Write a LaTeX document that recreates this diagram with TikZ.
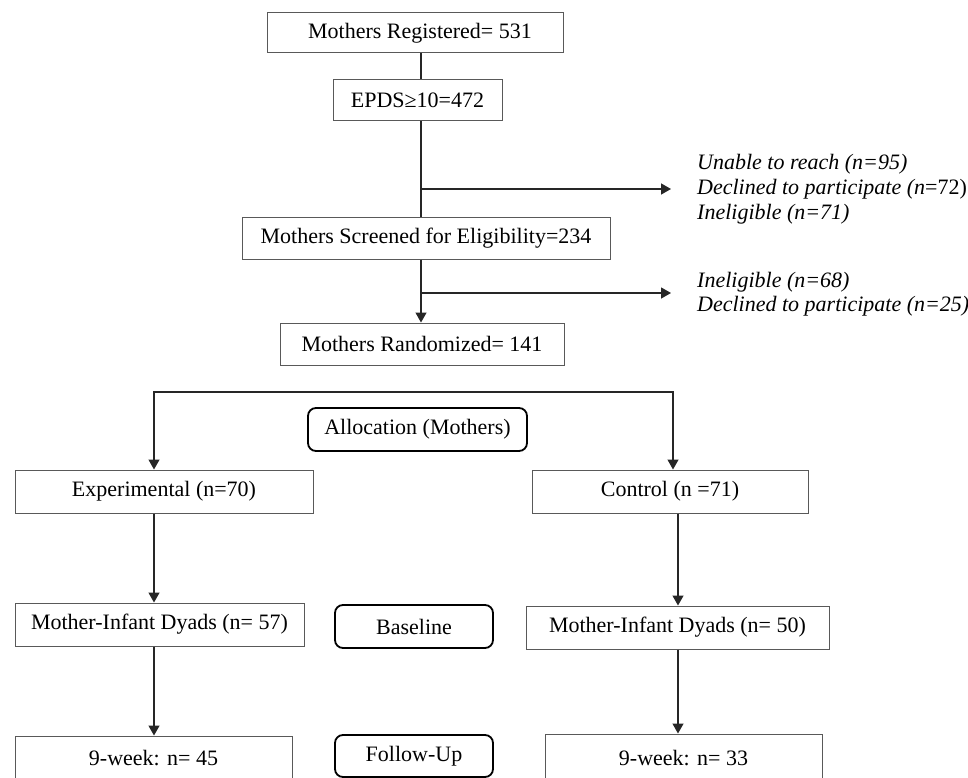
\documentclass[tikz,border=0pt]{standalone}
\usepackage{fontspec}
\setmainfont{Liberation Serif}
\usetikzlibrary{arrows.meta}
\begin{document}
\begin{tikzpicture}[x=1pt,y=-1pt,
  font=\fontsize{22}{26}\selectfont,
  box/.style={draw=black!65, line width=1pt, inner sep=0pt, align=center},
  rbox/.style={draw=black, line width=1.8pt, rounded corners=8pt, inner sep=0pt, align=center},
  conn/.style={draw=black!85, line width=1.3pt},
  arr/.style={conn, -{Triangle[length=10pt,width=11pt]}},
  side/.style={anchor=west, align=left, inner sep=0pt, font=\fontsize{22}{25}\selectfont\itshape}]
\clip (0,0) rectangle (968,778);
\fill[white] (0,0) rectangle (968,778);
% column coordinates
\coordinate (V) at (421,0);
\coordinate (L) at (154,0);
\coordinate (R) at (673,0);
\coordinate (R2) at (678,0);
% nodes
\node[box, minimum width=296, minimum height=40] (b1) at (415,33) {\hspace*{10pt}Mothers Registered= 531};
\node[box, minimum width=169, minimum height=41] (b2) at (417.5,100.5) {EPDS≥10=472};
\node[box, minimum width=368, minimum height=42] (b3) at (426,238) {Mothers Screened for Eligibility=234};
\node[box, minimum width=284, minimum height=42] (b4) at (422,344) {Mothers Randomized= 141};
\node[rbox, minimum width=219, minimum height=43] (alloc) at (417.5,429.5) {Allocation (Mothers)};
\node[box, minimum width=298, minimum height=43] (exp) at (164,491.5) {Experimental (n=70)};
\node[box, minimum width=276, minimum height=43] (ctl) at (670,491.5) {Control (n =71)};
\node[box, minimum width=289, minimum height=43] (d1) at (159.5,624.5) {Mother-Infant Dyads (n= 57)};
\node[rbox, minimum width=158, minimum height=43] (base) at (414,626.5) {Baseline};
\node[box, minimum width=303, minimum height=43] (d2) at (677.5,627.5) {Mother-Infant Dyads (n= 50)};
\node[box, minimum width=277, minimum height=44] (w1) at (153.5,758) {9-week: n= 45};
\node[rbox, minimum width=158, minimum height=42] (fu) at (414,756) {Follow-Up};
\node[box, minimum width=277, minimum height=48] (w2) at (683.5,758) {9-week: n= 33};
% side notes
\node[side] (ex1) at (697,189) {Unable to reach (n=95)\\Declined to participate (\textit{n}\upshape=72)\\Ineligible (n=71)};
\node[side, font=\fontsize{22}{23.5}\selectfont\itshape] (ex2) at (697,294) {Ineligible (n=68)\\Declined to participate (n=25)};
% branch coordinates
\coordinate (s1) at (421,189);
\coordinate (t1) at (671,189);
\coordinate (s2) at (421,293);
\coordinate (t2) at (671,293);
\coordinate (spL) at (154,392);
\coordinate (spR) at (673,392);
% connectors
\draw[conn] (V |- b1.south) -- (V |- b2.north);
\draw[conn] (V |- b2.south) -- (V |- b3.north);
\draw[arr] (V |- b3.south) -- (V |- b4.north);
\draw[arr] (s1) -- (t1);
\draw[arr] (s2) -- (t2);
\draw[conn, {Triangle[length=10pt,width=11pt]}-{Triangle[length=10pt,width=11pt]}]
  (L |- exp.north) -- (spL) -- (spR) -- (R |- ctl.north);
\draw[arr] (L |- exp.south) -- (L |- d1.north);
\draw[arr] (L |- d1.south) -- (L |- w1.north);
\draw[arr] (R2 |- ctl.south) -- (R2 |- d2.north);
\draw[arr] (R2 |- d2.south) -- (R2 |- w2.north);
\end{tikzpicture}
\end{document}
